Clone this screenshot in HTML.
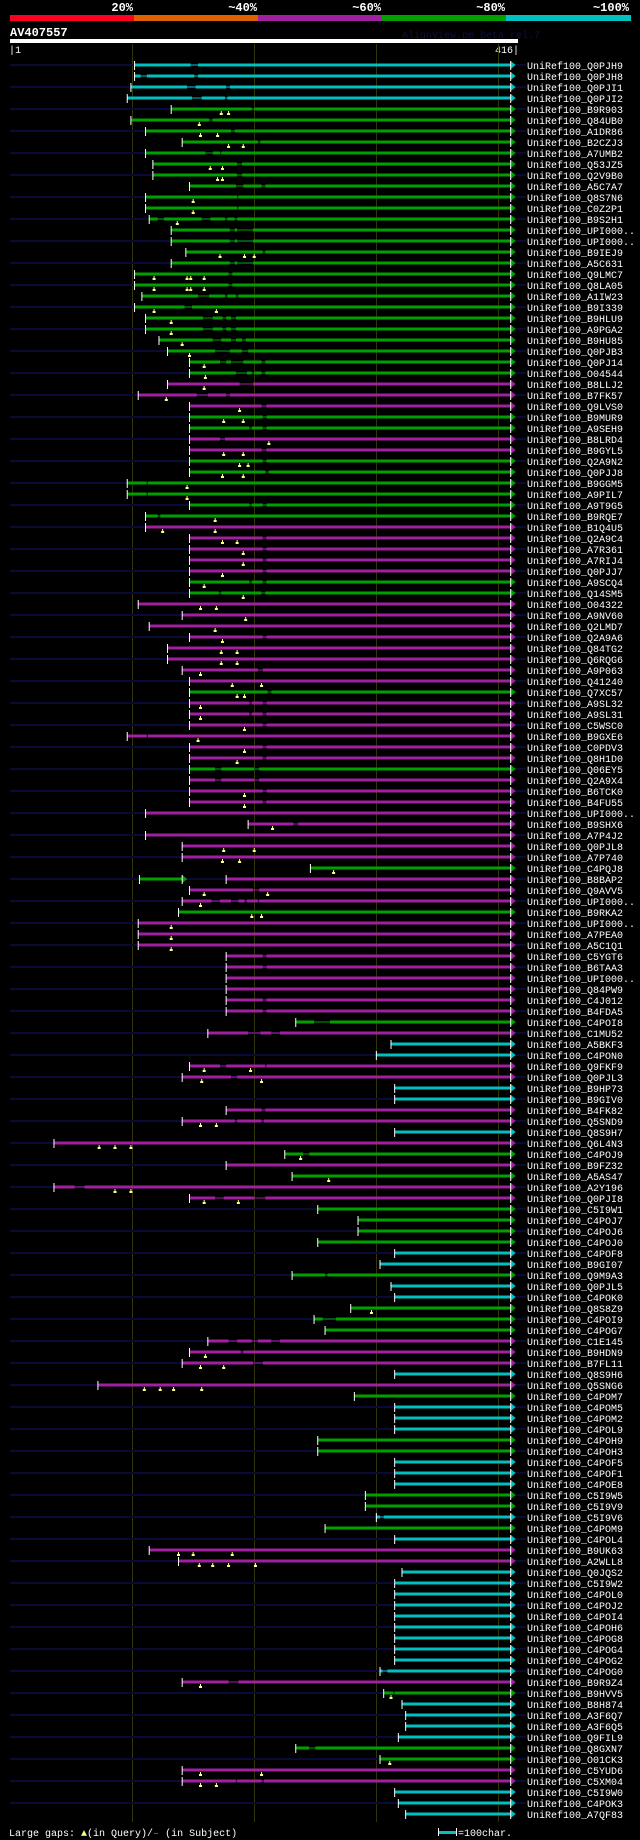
<!DOCTYPE html>
<html><head><meta charset="utf-8"><style>
html,body{margin:0;padding:0;background:#000;}
body{width:640px;height:1840px;overflow:hidden;position:relative;}
svg text{font-family:"Liberation Mono","DejaVu Sans Mono",monospace;}
</style></head><body>
<svg id="chart" width="640" height="1840" xmlns="http://www.w3.org/2000/svg" style="position:absolute;left:0;top:0">
<g>
<rect x="10" y="15" width="124" height="6" fill="#ff0020"/>
<rect x="134" y="15" width="124" height="6" fill="#e06000"/>
<rect x="258" y="15" width="124" height="6" fill="#a020a0"/>
<rect x="382" y="15" width="124" height="6" fill="#00a000"/>
<rect x="506" y="15" width="125" height="6" fill="#00c0c0"/>
<text x="133" y="11" fill="#fff" font-size="12" font-weight="bold" text-anchor="end">20%</text>
<text x="257" y="11" fill="#fff" font-size="12" font-weight="bold" text-anchor="end">~40%</text>
<text x="381" y="11" fill="#fff" font-size="12" font-weight="bold" text-anchor="end">~60%</text>
<text x="505" y="11" fill="#fff" font-size="12" font-weight="bold" text-anchor="end">~80%</text>
<text x="629" y="11" fill="#fff" font-size="12" font-weight="bold" text-anchor="end">~100%</text>
</g>
<text x="10" y="36" fill="#fff" font-size="12" font-weight="bold">AV407557</text>
<text x="402" y="38" fill="#101040" font-size="10">AlignView.pm Beta rel.7</text>
<rect x="10" y="39" width="508" height="4" fill="#fff"/>
<text x="9" y="53" fill="#fff" font-size="10">|1</text>
<text x="519" y="53" fill="#fff" font-size="10" text-anchor="end">416|</text>
<g id="grid"></g>
<g id="rows"></g>
<text x="9" y="1836" fill="#fff" font-size="10">Large gaps: <tspan fill="#ffff80">▲</tspan>(in Query)/<tspan fill="#00c0c0">–</tspan> (in Subject)</text>
<g>
<rect x="439" y="1831" width="17" height="3" fill="#00c0c0"/>
<rect x="438" y="1828" width="1" height="8" fill="#fff"/>
<rect x="456" y="1828" width="1" height="8" fill="#fff"/>
<text x="458" y="1836" fill="#fff" font-size="10">=100char.</text>
</g>
</svg>
<script>
const names=["Q0PJH9","Q0PJH8","Q0PJI1","Q0PJI2","B9R903","Q84UB0","A1DR86","B2CZJ3","A7UMB2","Q53JZ5","Q2V9B0","A5C7A7","Q8S7N6","C0Z2P1","B9S2H1","UPI000..","UPI000..","B9IEJ9","A5C631","Q9LMC7","Q8LA05","A1IW23","B9I339","B9HLU9","A9PGA2","B9HU85","Q0PJB3","Q0PJ14","O04544","B8LLJ2","B7FK57","Q9LVS0","B9MUR9","A9SEH9","B8LRD4","B9GYL5","Q2A9N2","Q0PJJ8","B9GGM5","A9PIL7","A9T9G5","B9RQE7","B1Q4U5","Q2A9C4","A7R361","A7RIJ4","Q0PJJ7","A9SCQ4","Q14SM5","O04322","A9NV60","Q2LMD7","Q2A9A6","Q84TG2","Q6RQG6","A9P063","Q41240","Q7XC57","A9SL32","A9SL31","C5WSC0","B9GXE6","C0PDV3","Q8H1D0","Q06EY5","Q2A9X4","B6TCK0","B4FU55","UPI000..","B9SHX6","A7P4J2","Q0PJL8","A7P740","C4PQJ8","B8BAP2","Q9AVV5","UPI000..","B9RKA2","UPI000..","A7PEA0","A5C1Q1","C5YGT6","B6TAA3","UPI000..","Q84PW9","C4J012","B4FDA5","C4POI8","C1MU52","A5BKF3","C4PON0","Q9FKF9","Q0PJL3","B9HP73","B9GIV0","B4FK82","Q5SND9","Q8S9H7","Q6L4N3","C4POJ9","B9FZ32","A5AS47","A2Y196","Q0PJI8","C5I9W1","C4POJ7","C4POJ6","C4POJ0","C4POF8","B9GI07","Q9M9A3","Q0PJL5","C4POK0","Q8S8Z9","C4POI9","C4POG7","C1E145","B9HDN9","B7FL11","Q8S9H6","Q5SNG6","C4POM7","C4POM5","C4POM2","C4POL9","C4POH9","C4POH3","C4POF5","C4POF1","C4POE8","C5I9W5","C5I9V9","C5I9V6","C4POM9","C4POL4","B9UK63","A2WLL8","Q0JQS2","C5I9W2","C4POL0","C4POJ2","C4POI4","C4POH6","C4POG8","C4POG4","C4POG2","C4POG0","B9R9Z4","B9HVV5","B8H874","A3F6Q7","A3F6Q5","Q9FIL9","Q8GXN7","O01CK3","C5YUD6","C5XM04","C5I9W0","C4POK3","A7QF83"];
const starts=[102,102,99,96,132,99,111,141,111,117,117,147,111,111,114,132,132,144,132,102,102,108,102,111,111,122,129,147,147,129,105,147,147,147,147,147,147,147,96,96,147,111,111,147,147,147,147,147,147,105,141,114,147,129,129,141,147,147,147,147,147,96,147,147,147,147,147,147,111,195,111,141,141,246,106,147,141,138,105,105,105,177,177,177,177,177,177,234,162,312,300,147,141,315,315,177,141,315,36,225,177,231,36,147,252,285,285,252,315,303,231,312,315,279,249,258,162,147,141,315,72,282,315,315,315,252,252,315,315,315,291,291,300,258,315,114,138,321,315,315,315,315,315,315,315,315,303,141,306,321,324,324,318,234,303,141,141,315,318,324];
const colorRuns=[["c",4],["g",25],["p",3],["g",2],["p",2],["g",6],["p",5],["g",2],["p",8],["g",1],["p",6],["g",1],["p",8],["g",2],["p",2],["g",1],["p",2],["p",7],["g",1],["p",1],["c",2],["p",2],["c",2],["p",1],["p",1],["c",1],["p",1],["g",1],["p",1],["g",1],["p",2],["g",4],["c",2],["g",1],["c",1],["c",1],["g",3],["p",3],["c",1],["p",1],["g",1],["c",3],["g",2],["c",1],["c",2],["g",2],["c",1],["g",1],["c",1],["p",2],["c",10],["p",1],["g",1],["c",4],["g",2],["p",2],["c",3]];
// [row, gapStart, gapEnd, ...] in query residues
const gapRows=[[0,148,154],[1,107,112,151,154],[2,145,152,177,180],[3,149,157,176,178],[4,198,200],[5,163,166],[6,181,184],[7,203,205],[8,160,166,172,173],[9,186,190],[10,186,190],[11,185,191,206,209],[12,186,187],[13,186,187],[14,121,126,157,164,176,178,184,186],[15,180,184,186,199],[16,180,184,186,199],[17,207,209],[18,180,184,186,199],[19,179,182],[20,179,182],[21,154,163,176,178,185,187],[22,143,149],[23,158,166,174,177,181,185],[24,158,166,174,177,181,185],[25,166,173,181,185,190,193],[26,168,180,190,195],[27,172,177,181,191,206,209],[28,185,194,198,200,206,209],[29,188,199],[30,153,162,177,180],[31,206,210],[32,207,210],[33,196,198,207,210],[34,172,176],[35,206,210],[36,207,210],[37,209,212],[38,112,113],[39,112,113],[40,196,198,207,210],[41,121,123],[43,207,210],[44,207,210],[45,207,210],[46,207,210],[47,196,198,207,210],[48,171,173,206,209],[52,207,210],[55,203,207],[57,211,214],[58,196,198,207,210],[59,196,198,207,210],[60,207,210],[61,112,113],[62,207,210],[63,207,210],[64,168,173,200,204],[65,168,173,200,204],[66,207,210],[67,207,210],[69,232,236],[75,199,204],[76,165,172,181,187,192,194,203,204],[81,207,210],[82,207,210],[85,207,210],[86,207,210],[87,249,262],[88,195,205,214,221],[91,172,177,209,210],[92,181,186],[95,206,209],[96,184,186,206,208],[99,240,245],[102,53,61],[103,168,175,200,209],[110,258,260],[114,256,267],[116,179,186,198,203,214,221],[117,189,191],[118,199,207],[132,303,306],[146,305,309],[147,179,187],[148,314,315],[153,245,250],[156,185,186,206,208]];
// [row, markerPos, ...] large gaps in query
const markRows=[[4,173,179],[5,155],[6,156,170],[7,179,191],[9,164,174],[10,170,174],[12,150],[13,150],[14,137],[17,172,192,200],[19,118,145,148,159],[20,118,145,148,159],[22,118,169],[23,132],[24,132],[25,141],[26,147],[27,159],[28,160],[29,159],[30,128],[31,188],[32,175,191],[34,212],[35,175,191],[36,188,195],[37,174,191],[38,145],[39,145],[41,168],[42,125,168],[43,174,186],[44,191],[45,191],[46,174],[47,159],[48,191],[49,156,169],[50,193],[51,168],[52,174],[53,173,186],[54,173,186],[55,156],[56,182,206],[57,186,192],[58,156],[59,156],[60,192],[61,154],[62,192],[63,186],[66,192],[67,192],[69,215],[71,175,200],[72,174,188],[73,265],[75,159,211],[76,156],[77,198,206],[78,132],[79,132],[80,132],[91,159,197],[92,157,206],[96,156,169],[98,73,86,99],[99,238],[101,261],[102,86,99],[103,159,187],[113,296],[117,160],[118,156,175],[120,110,123,134,157],[135,138,150,182],[136,155,166,179,201],[147,156],[148,312],[154,311],[155,156,206],[156,156,169]];
const splitRows=[[74,141,177,"p"]];
const END=410, QLEN=416;
const colors=[];
colorRuns.forEach(r=>{for(let k=0;k<r[1];k++)colors.push(r[0]);});
const gaps=names.map(()=>[]);
gapRows.forEach(r=>{gaps[r[0]]=r.slice(1);});
const marks=names.map(()=>[]);
markRows.forEach(r=>{marks[r[0]]=r.slice(1);});
const PAL={c:"#00c0c0",g:"#00a000",p:"#a020a0"};
const xS=r=>10+r*(508/QLEN);
const yR=i=>65+i*11;
const NS="http://www.w3.org/2000/svg";
function mk(t,a,parent){const e=document.createElementNS(NS,t);for(const k in a)e.setAttribute(k,a[k]);parent.appendChild(e);return e;}
const grid=document.getElementById("grid");
[100,200,300,400].forEach(v=>{
  const l=mk("rect",{x:Math.round(xS(v)),y:44,width:1,height:1778,fill:"#34340c"},grid);
  
  
});
const rowsG=document.getElementById("rows");
function bar(g,a,b,y,col,gl){
  let cur=a;
  for(let k=0;k<gl.length;k+=2){
    const g1=Math.max(gl[k],cur),g2=gl[k+1];
    if(g2<=cur) continue;
    if(g1>cur) mk("rect",{x:xS(cur),y:y-1.5,width:xS(g1)-xS(cur),height:3,fill:col},g);
    mk("rect",{x:xS(g1),y:y-0.5,width:xS(g2)-xS(g1),height:1,fill:col},g);
    cur=g2;
  }
  if(b>cur) mk("rect",{x:xS(cur),y:y-1.5,width:xS(b)-xS(cur),height:3,fill:col},g);
}
function tri(g,r,y,col){
  const x=xS(r);
  mk("polygon",{points:`${x},${y-4} ${x+5},${y} ${x},${y+4}`,fill:col},g);
  mk("rect",{x:x-0.5,y:y-4,width:1,height:9,fill:"#fff"},g);
}
names.forEach((nm,i)=>{
  const y=yR(i);
  const g=mk("g",{},rowsG);
  
  
  if(i%2===0) mk("rect",{x:10,y:y-1,width:516,height:2,fill:"#0a0a36"},g);
  const col=PAL[colors[i]]||PAL.c;
  const sp=splitRows.find(s=>s[0]===i);
  if(sp){
    bar(g,starts[i],sp[1],y,col,[]);
    tri(g,sp[1],y,col);
    mk("rect",{x:xS(starts[i])-0.5,y:y-4,width:1,height:9,fill:"#fff"},g);
    const c2=PAL[sp[3]];
    bar(g,sp[2],END,y,c2,gaps[i]);
    mk("rect",{x:xS(sp[2])-0.5,y:y-4,width:1,height:9,fill:"#fff"},g);
    tri(g,END,y,c2);
  } else {
    bar(g,starts[i],END,y,col,gaps[i]);
    mk("rect",{x:xS(starts[i])-0.5,y:y-4,width:1,height:9,fill:"#fff"},g);
    tri(g,END,y,col);
  }
  marks[i].forEach(m=>{
    const mx=xS(m);
    const mm=mk("g",{},g);
    
    
    mk("rect",{x:mx-0.5,y:y+2,width:1,height:2,fill:"#ffff80"},mm);
    mk("rect",{x:mx-1.5,y:y+4,width:3,height:2,fill:"#ffff80"},mm);
  });
  const t=mk("text",{x:527,y:y+4,fill:"#fff","font-size":"10"},g);
  
  
  t.textContent="UniRef100_"+nm;
});
</script>
</body></html>
